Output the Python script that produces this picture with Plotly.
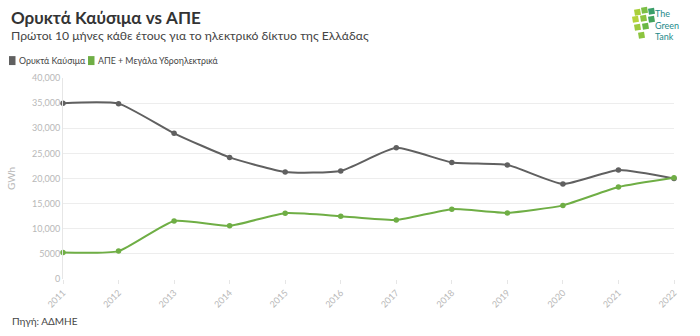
import plotly.graph_objects as go

years = list(range(2011, 2023))
fossil = [35000, 34900, 29000, 24200, 21300, 21500, 26100, 23200, 22700, 18900, 21700, 20000]
res = [5250, 5550, 11550, 10600, 13100, 12500, 11750, 13900, 13150, 14650, 18300, 20150]
y_ticks = [0, 5000, 10000, 15000, 20000, 25000, 30000, 35000, 40000]
y_tick_text = ["0", "5000", "10,000", "15,000", "20,000", "25,000", "30,000", "35,000", "40,000"]
series_names = ["Ορυκτά Καύσιμα", "ΑΠΕ + Μεγάλα Υδροηλεκτρικά"]

C_FOSSIL = "#606060"
C_RES = "#6fae45"
FONT = "Lato"

W, H = 700, 336
L, R, T, B = 63, 26, 77.5, 56.5
PW, PH = W - L - R, H - T - B

def px(x):
    return (x - L) / PW

def py(y):
    return (H - B - y) / PH

fig = go.Figure()
fig.add_trace(go.Scatter(x=years, y=fossil, mode="lines+markers", name=series_names[0],
                         line=dict(color=C_FOSSIL, width=2, shape="spline", smoothing=0.5),
                         marker=dict(size=5.5, color=C_FOSSIL), showlegend=False, cliponaxis=False))
fig.add_trace(go.Scatter(x=years, y=res, mode="lines+markers", name=series_names[1],
                         line=dict(color=C_RES, width=2, shape="spline", smoothing=0.5),
                         marker=dict(size=5.5, color=C_RES), showlegend=False, cliponaxis=False))

annotations = [
    dict(text="<b>Ορυκτά Καύσιμα vs ΑΠΕ</b>", x=px(9), y=py(17), xref="paper", yref="paper",
         xanchor="left", yanchor="middle", showarrow=False,
         font=dict(size=17, color="#333333", family=FONT)),
    dict(text="Πρώτοι 10 μήνες κάθε έτους για το ηλεκτρικό δίκτυο της Ελλάδας", x=px(9), y=py(35),
         xref="paper", yref="paper", xanchor="left", yanchor="middle", showarrow=False,
         font=dict(size=12.2, color="#444444", family=FONT)),
    dict(text="Πηγή: ΑΔΜΗΕ", x=px(10), y=py(322), xref="paper", yref="paper",
         xanchor="left", yanchor="middle", showarrow=False,
         font=dict(size=10, color="#444444", family=FONT)),
    dict(text="The<br>Green<br>Tank", x=px(653), y=py(24), xref="paper", yref="paper",
         xanchor="left", yanchor="middle", showarrow=False, align="left",
         font=dict(size=9, color="#1e8a8a", family=FONT)),
]

shapes = []
# manual legend
legend_items = [(9, series_names[0], C_FOSSIL), (88, series_names[1], C_RES)]
for (lx, name, col) in legend_items:
    shapes.append(dict(type="rect", xref="paper", yref="paper",
                       x0=px(lx), x1=px(lx + 6.5), y0=py(64.5), y1=py(55.5),
                       fillcolor=col, line=dict(width=0)))
    annotations.append(dict(text=name, x=px(lx + 8), y=py(60), xref="paper", yref="paper",
                            xanchor="left", yanchor="middle", showarrow=False,
                            font=dict(size=8.8, color="#444444", family=FONT)))

# simple logo blocks
logo_blocks = [
    (634, 9, "#a9cf3a"), (641, 7, "#7cbf45"), (648, 8, "#3a9f6a"),
    (632, 16, "#b5d33c"), (640, 15, "#8cc43f"), (648, 16, "#44a35c"),
    (634, 24, "#9dca3e"), (642, 23, "#6ab845"),
    (638, 32, "#8cc43f"),
]
for (bx, by, col) in logo_blocks:
    shapes.append(dict(type="path", xref="paper", yref="paper",
                       path=f"M {px(bx)} {py(by)} L {px(bx+6)} {py(by-1)} L {px(bx+7)} {py(by+5)} L {px(bx+1)} {py(by+6)} Z",
                       fillcolor=col, line=dict(width=0)))

fig.update_layout(
    width=W, height=H,
    margin=dict(l=L, r=R, t=T, b=B, autoexpand=False),
    paper_bgcolor="white", plot_bgcolor="white",
    font=dict(family=FONT, color="#444444"),
    showlegend=False,
    xaxis=dict(range=[2011, 2022], tickmode="array", tickvals=years,
               ticktext=[str(y) for y in years], tickangle=-45,
               tickfont=dict(size=9, color="#b8b8b8"), showgrid=False,
               showline=False, zeroline=False, ticks="outside", ticklen=4,
               tickcolor="#e6e6e6"),
    yaxis=dict(range=[0, 40000], tickmode="array", tickvals=y_ticks, ticktext=y_tick_text,
               tickfont=dict(size=9, color="#b8b8b8"), showgrid=True, gridcolor="#ededed",
               gridwidth=1, zeroline=False, showline=True, linecolor="#e6e6e6",
               title=dict(text="GWh", font=dict(size=10, color="#b8b8b8"), standoff=14)),
    annotations=annotations,
    shapes=shapes,
)

fig.write_html("out.html")
